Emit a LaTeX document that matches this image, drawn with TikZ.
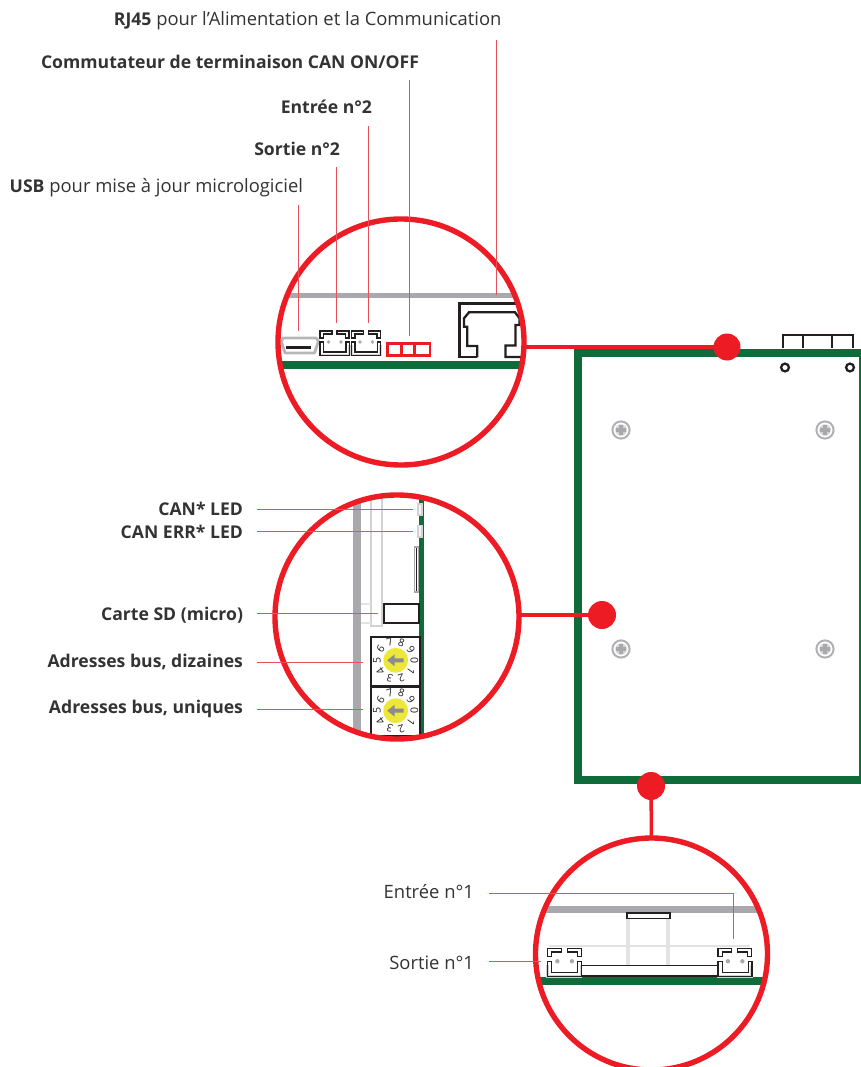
\documentclass[tikz,border=0pt]{standalone}
\usepackage{fontspec}
\setmainfont{Open Sans}
\definecolor{redc}{HTML}{ED1C24}
\definecolor{leadc}{HTML}{E9505A}
\definecolor{greenc}{HTML}{0F6B3A}
\definecolor{grayc}{HTML}{A9A9AD}
\definecolor{lightc}{HTML}{E3E3E5}
\definecolor{midc}{HTML}{D2D2D4}
\definecolor{inkc}{HTML}{231F20}
\definecolor{txtc}{HTML}{333333}
\definecolor{yelc}{HTML}{EDE73A}
\definecolor{arrc}{HTML}{8C8C8C}
\newcommand{\bt}[1]{{\fontsize{17.6}{19}\selectfont\bfseries #1}}
\tikzset{
 x=1pt,y=-1pt,
 lbl/.style={font=\fontsize{18.4}{19}\selectfont,text=txtc,inner sep=0pt,outer sep=0pt,anchor=base east},
 lead/.style={draw=leadc,line width=0.9pt},
 lens/.style={circle,draw=redc,line width=5.4pt,minimum size=#1,inner sep=0pt,outer sep=0pt},
 dotr/.style={circle,fill=redc,minimum size=#1,inner sep=0pt,outer sep=0pt},
 link/.style={draw=redc,line width=3.5pt},
 ink/.style={draw=inkc,line width=2.3pt,line join=miter},
 jst/.pic={
  \draw[grayc!50,line width=2.4pt] (0,14)--(0,24)--(29,24)--(29,14);
  \draw[inkc,line width=1.1pt] (0,7)--(0,0)--(12,0)--(12,3)--(3.5,3)--(3.5,7)--cycle;
  \draw[inkc,line width=1.1pt] (29,7)--(29,0)--(17,0)--(17,3)--(25.5,3)--(25.5,7)--cycle;
  \draw[inkc,line width=1.1pt] (0,11)--(0,24.3)--(29.3,24.3)--(29.3,11)--(26,11)--(26,21)--(3.5,21)--(3.5,11)--cycle;
  \fill[grayc] (8.5,11) circle (1.9) (21,11) circle (1.9);
 },
 rotary/.pic={
  \draw[inkc,line width=2pt,fill=white] (-25,-23.3) rectangle (24,25.7);
  \fill[yelc] (0,0) circle (12.4);
  \fill[arrc] (-8.5,0)--(-1,-6)--(-1,-2)--(8,-2)--(8,2)--(-1,2)--(-1,6)--cycle;
  \foreach \d in {0,...,9}{
   \pgfmathsetmacro{\ang}{36*\d}
   \pgfmathsetmacro{\rot}{-36*\d-90}
   \path (\ang:18.8) node[rotate=\rot,font=\fontsize{10.6}{11}\selectfont,text=inkc,inner sep=0pt] {\d};
  }
 },
 screw/.pic={
  \draw[grayc!90,line width=2pt,fill=white] (0,0) circle (8.6);
  \fill[grayc!45] (0,0) circle (5.8);
  \fill[grayc] (-5,-2) rectangle (5,2) (-2,-5) rectangle (2,5);
 },
}
\begin{document}
\begin{tikzpicture}
\clip (0,0) rectangle (861,1067);

% board
\draw[greenc,line width=8pt] (578,352.5) rectangle (863,780);
\draw[ink] (783,348)--(783,335)--(853,335)--(853,348) (803,335)--(803,348) (832,335)--(832,348);
\draw[inkc,line width=2.3pt] (785,367.5) circle (3.9) (850,367.5) circle (3.9);
\foreach \a/\b in {621/430,825/430,621/649,825/649}{\pic at (\a,\b) {screw};}

% top lens contents
\begin{scope}
\path[clip] (401,342) circle (123);
\fill[grayc] (275,292.5) rectangle (528,297.5);
\fill[greenc] (275,361) rectangle (528,369);
\draw[ink] (477.3,357.3)--(477.3,346)--(467.3,346)--(467.3,326.7)--(464,326.7)--(464,318.3)--(469,312.3)--(515,312.3)--(519.5,318.3)--(519.5,325)--(515.5,325)--(515.5,345.5)--(505.5,345.5)--(505.5,357)--(530,357);
\draw[ink] (530,303.5)--(459.5,303.5)--(459.5,357.3)--(477.3,357.3);
\end{scope}
\draw[grayc!85,line width=2.8pt,fill=white,line join=round] (283,338)--(316,338)--(318.5,341)--(314.5,353)--(285,353)--(281.5,342)--cycle;
\draw[inkc,line width=3.2pt] (286,347.7)--(311,347.7);
\pic at (320,331) {jst};
\pic at (351.5,331) {jst};
\draw[redc,line width=2.5pt] (387.5,343.5) rectangle (430,355.5) (401.5,343.5)--(401.5,355.5) (414.5,343.5)--(414.5,355.5);

% middle lens contents
\begin{scope}
\path[clip] (397,617) circle (122);
\fill[grayc] (353,490) rectangle (360.5,745);
\fill[greenc] (419,490) rectangle (424,745);
\draw[midc,line width=2.4pt] (370.7,490)--(370.7,626)--(382,626)--(382,490);
\draw[lightc,line width=2pt] (360.5,603.5)--(370.7,603.5) (360.5,623)--(370.7,623);
\draw[midc,line width=1.4pt,fill=lightc!40] (418,504) rectangle (422,515) (418,525.5) rectangle (422,537);
\draw[grayc,line width=1.4pt,fill=white] (414.5,547) rectangle (418.5,592);
\draw[inkc,line width=0.8pt] (416.5,548)--(416.5,591);
\draw[inkc,line width=2pt,fill=white] (383.5,604) rectangle (419,623);
\pic at (395.7,660.3) {rotary};
\pic at (395.7,710.7) {rotary};
\end{scope}

% bottom lens contents
\begin{scope}
\path[clip] (651.5,954) circle (116);
\fill[grayc] (530,906) rectangle (770,913);
\fill[greenc] (530,976.5) rectangle (770,985);
\draw[lightc,line width=2.2pt] (549,945.7)--(750,945.7);
\draw[lightc,line width=4.5pt] (628,913)--(628,965) (668,913)--(668,965);
\draw[inkc,line width=1.8pt,fill=white] (627,913) rectangle (670,918.5);
\draw[inkc,line width=1.8pt,fill=white] (581,965.5) rectangle (718,976);
\pic[scale=1.16] at (547.5,948.5) {jst};
\pic[scale=1.16] at (718,948.5) {jst};
\end{scope}

% red nodes
\node[dotr=27pt] (dotA) at (727,347) {};
\node[dotr=28pt] (dotB) at (602,615) {};
\node[dotr=28pt] (dotC) at (651,786) {};
\node[lens=246pt] (lensA) at (401,342) {};
\node[lens=244pt] (lensB) at (397,617) {};
\node[lens=232pt] (lensC) at (651.5,954) {};
\draw[link] (lensA.east |- dotA) -- (dotA);
\draw[link] (lensB.east |- dotB) -- (dotB);
\draw[link] (dotC) -- (lensC.north);

% labels
\node[lbl] (tRJ) at (501.5,25.8) {\bt{RJ45} pour l’Alimentation et la Communication};
\node[lbl] (tCom) at (419,68.8) {\bt{Commutateur de terminaison CAN ON/OFF}};
\node[lbl] (tE2) at (372,113.8) {\bt{Entrée n°2}};
\node[lbl] (tS2) at (340,155.8) {\bt{Sortie n°2}};
\node[lbl] (tUSB) at (303,192.8) {\bt{USB} pour mise à jour micrologiciel};
\node[lbl] (tCan) at (243,515) {\bt{CAN* LED}};
\node[lbl] (tErr) at (243,538) {\bt{CAN ERR* LED}};
\node[lbl] (tSD) at (243,620) {\bt{Carte SD (micro)}};
\node[lbl] (tDiz) at (243,667) {\bt{Adresses bus, dizaines}};
\node[lbl] (tUni) at (243,713) {\bt{Adresses bus, uniques}};
\node[lbl] (tE1) at (474,898.5) {Entrée n°1};
\node[lbl] (tS1) at (474,969.5) {Sortie n°1};

% leaders
\coordinate (pRJa) at (496,40); \coordinate (pRJb) at (496,295);
\coordinate (pComa) at (409,80); \coordinate (pComb) at (409,336);
\coordinate (pE2a) at (368,126); \coordinate (pE2b) at (368,323);
\coordinate (pS2a) at (336,167); \coordinate (pS2b) at (336,323);
\coordinate (pUa) at (298,205); \coordinate (pUb) at (298,331);
\coordinate (qCan) at (257,509.5); \coordinate (pCan) at (413,509.5);
\coordinate (qErr) at (257,531.5); \coordinate (pErr) at (413,531.5);
\coordinate (qSD) at (257,613.5); \coordinate (pSD) at (378,613.5);
\coordinate (qDiz) at (257,662.7); \coordinate (pDiz) at (363,662.7);
\coordinate (qUni) at (257,709.7); \coordinate (pUni) at (363,709.7);
\coordinate (pE1a) at (489,893); \coordinate (pE1b) at (733,893); \coordinate (pE1c) at (733,939);
\coordinate (pS1a) at (489,961); \coordinate (pS1b) at (541,961);
\draw[lead] (pRJa)--(pRJb);
\draw[lead] (pComa)--(pComb);
\draw[lead] (pE2a)--(pE2b);
\draw[lead] (pS2a)--(pS2b);
\draw[lead] (pUa)--(pUb);
\draw[lead] (qCan)--(pCan);
\draw[lead] (qErr)--(pErr);
\draw[lead] (qSD)--(pSD);
\draw[lead] (qDiz)--(pDiz);
\draw[lead] (qUni)--(pUni);
\draw[lead] (pE1a)--(pE1b)--(pE1c);
\draw[lead] (pS1a)--(pS1b);
\end{tikzpicture}
\end{document}
